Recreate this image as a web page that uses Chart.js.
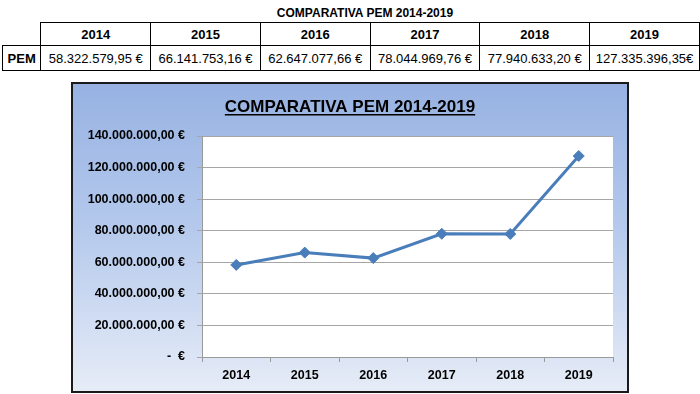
<!DOCTYPE html>
<html>
<head>
<meta charset="utf-8">
<script src="https://cdn.jsdelivr.net/npm/chart.js@4.4.1/dist/chart.umd.min.js"></script>
<style>
  html, body { margin: 0; padding: 0; background: #fff; }
  body { width: 700px; height: 394px; position: relative; overflow: hidden;
         font-family: "Liberation Sans", Arial, sans-serif; color: #000; }
  #tableTitle { position: absolute; left: 0; width: 730px; top: 6px; text-align: center;
                font-weight: bold; font-size: 12px; }
  #pemTable { position: absolute; left: 2px; top: 22px; border-collapse: collapse; table-layout: fixed; }
  #pemTable td { border: 1px solid #000; padding: 0; text-align: center; font-size: 13px; }
  #pemTable tr.head td { height: 22px; font-weight: bold; }
  #pemTable tr.vals td { height: 24px; }
  #pemTable td.empty { border: none; }
  #pemTable td.lbl { font-weight: bold; }
  #chartBox { position: absolute; left: 71px; top: 82px; width: 558px; height: 311px;
              box-sizing: border-box; border: 2px solid #1a1a1a;
              background: linear-gradient(to bottom, #97b2e2 0%, #b3c8ec 45%, #e6ecf7 100%); }
  #chartBox canvas { display: block; }
</style>
</head>
<body>
<div id="tableTitle">COMPARATIVA PEM 2014-2019</div>
<table id="pemTable"></table>
<div id="chartBox"><canvas id="pemChart" width="554" height="307"></canvas></div>
<script>
// Datos
const years = ['2014', '2015', '2016', '2017', '2018', '2019'];
const pemValues = [58322579.95, 66141753.16, 62647077.66, 78044969.76, 77940633.20, 127335396.35];
const tableLabels = ['58.322.579,95 €', '66.141.753,16 €', '62.647.077,66 €', '78.044.969,76 €', '77.940.633,20 €', '127.335.396,35€'];
const chartTitle = 'COMPARATIVA PEM 2014-2019';

// Tabla superior
const table = document.getElementById('pemTable');
let head = '<tr class="head"><td class="empty" style="width:38px"></td>';
years.forEach(y => { head += '<td style="width:109px">' + y + '</td>'; });
head += '</tr>';
let row = '<tr class="vals"><td class="lbl">PEM</td>';
tableLabels.forEach(v => { row += '<td>' + v + '</td>'; });
row += '</tr>';
table.innerHTML = head + row;

// Formato euro
function euro(v) {
  if (v === 0) return '-  €';
  const parts = v.toFixed(2).split('.');
  return parts[0].replace(/\B(?=(\d{3})+(?!\d))/g, '.') + ',' + parts[1] + ' €';
}

// Fondo blanco del área de trazado
const plotBgPlugin = {
  id: 'plotBg',
  beforeDraw(chart) {
    const a = chart.chartArea;
    const ctx = chart.ctx;
    ctx.save();
    ctx.fillStyle = '#ffffff';
    ctx.fillRect(a.left, a.top, a.right - a.left, a.bottom - a.top);
    ctx.restore();
  }
};

// Título subrayado
const titlePlugin = {
  id: 'underlinedTitle',
  afterDraw(chart) {
    const ctx = chart.ctx;
    ctx.save();
    ctx.font = 'bold 17px "Liberation Sans", Arial, sans-serif';
    ctx.fillStyle = '#000';
    ctx.textAlign = 'center';
    ctx.textBaseline = 'alphabetic';
    const cx = chart.width / 2;
    ctx.fillText(chartTitle, cx, 28);
    const w = ctx.measureText(chartTitle).width;
    ctx.fillRect(cx - w / 2, 30, w, 1.5);
    ctx.restore();
  }
};

const lineColor = '#4a7ebb';
const tickFont = '"Liberation Sans", Arial, sans-serif';

new Chart(document.getElementById('pemChart'), {
  type: 'line',
  data: {
    labels: years,
    datasets: [{
      data: pemValues,
      borderColor: lineColor,
      backgroundColor: lineColor,
      borderWidth: 3,
      pointStyle: 'rectRot',
      pointRadius: 5.5,
      pointBorderWidth: 1,
      tension: 0
    }]
  },
  options: {
    responsive: false,
    animation: false,
    layout: { padding: { top: 52, right: 14, left: 0, bottom: 0 } },
    plugins: {
      legend: { display: false },
      title: { display: false },
      tooltip: { enabled: false }
    },
    scales: {
      x: {
        offset: true,
        afterFit: s => { s.height = 34; },
        grid: { display: true, drawOnChartArea: false, drawTicks: true, tickLength: 5, color: '#9a9a9a', offset: true },
        border: { display: true, color: '#9a9a9a', width: 1 },
        ticks: { color: '#000', padding: 6, font: { family: tickFont, size: 12.5, weight: 'bold' } }
      },
      y: {
        min: 0,
        max: 140000000,
        afterFit: s => { s.width = 129; },
        grid: { color: '#a6a6a6', lineWidth: 1, tickLength: 5 },
        border: { display: true, color: '#9a9a9a', width: 1 },
        ticks: {
          stepSize: 20000000,
          color: '#000',
          padding: 12,
          font: { family: tickFont, size: 12.5, weight: 'bold' },
          callback: v => euro(v)
        }
      }
    }
  },
  plugins: [plotBgPlugin, titlePlugin]
});
</script>
</body>
</html>
